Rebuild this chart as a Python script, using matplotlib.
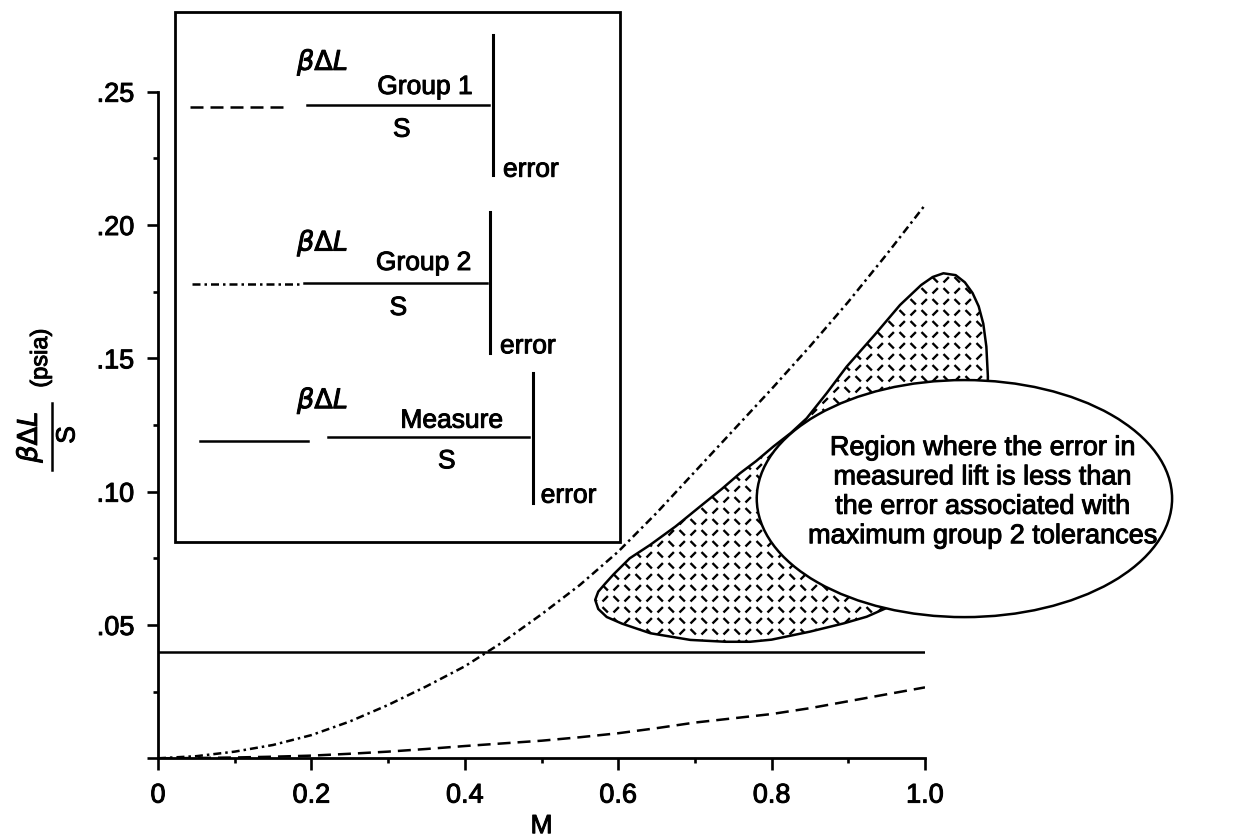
import numpy as np
import matplotlib
matplotlib.use("Agg")
import matplotlib.pyplot as plt
import matplotlib.patheffects as pe
from matplotlib.patches import Polygon, Ellipse, Rectangle
from matplotlib.lines import Line2D
from matplotlib.collections import LineCollection
from matplotlib.ticker import FixedLocator, FixedFormatter

plt.rcParams['font.family'] = ['Liberation Sans', 'DejaVu Sans']
plt.rcParams['mathtext.fontset'] = 'dejavusans'

# ---- data -------------------------------------------------------------
mach = [0.00, 0.05, 0.10, 0.15, 0.20, 0.25, 0.30, 0.35, 0.40, 0.45, 0.50,
        0.55, 0.60, 0.65, 0.70, 0.75, 0.80, 0.85, 0.90, 0.95, 1.00]
group1_error = [0.0, 0.0001, 0.0003, 0.0006, 0.0010, 0.0017, 0.0025, 0.0035,
                0.0046, 0.0056, 0.0066, 0.0079, 0.0094, 0.0113, 0.0134,
                0.0150, 0.0166, 0.0188, 0.0214, 0.0240, 0.0266]
group2_error = [0.0, 0.0008, 0.0025, 0.0050, 0.0087, 0.0138, 0.0200, 0.0270,
                0.0345, 0.0437, 0.0540, 0.0650, 0.0775, 0.0920, 0.1075,
                0.1230, 0.1385, 0.1545, 0.1712, 0.1890, 0.2075]
measure_mach = [0.0, 1.0]
measure_error = [0.040, 0.040]

# outline of the region where measured lift error < group 2 error
region_mach = [0.570, 0.574, 0.583, 0.594, 0.615, 0.6415, 0.675, 0.7066,
               0.735, 0.7588, 0.780, 0.8022, 0.825, 0.8457, 0.872, 0.8979,
               0.935, 0.9674, 0.995, 1.010, 1.024, 1.040, 1.052, 1.062,
               1.070, 1.076, 1.080, 1.082, 1.081, 1.075, 1.062, 1.040,
               1.005, 0.954, 0.924, 0.894, 0.850, 0.800, 0.772, 0.740,
               0.694, 0.642, 0.605, 0.585, 0.574]
region_error = [0.0594, 0.0625, 0.0655, 0.0690, 0.0750, 0.0800, 0.0870,
                0.0944, 0.1010, 0.1069, 0.1115, 0.1169, 0.1220, 0.1275,
                0.1370, 0.1469, 0.1590, 0.1700, 0.1775, 0.1805, 0.1819,
                0.1812, 0.1785, 0.1745, 0.1695, 0.1630, 0.1544, 0.1431,
                0.1300, 0.1150, 0.0950, 0.0780, 0.0650, 0.0569, 0.0531,
                0.0506, 0.0475, 0.0445, 0.0437, 0.0437, 0.0444, 0.0469,
                0.0505, 0.0530, 0.0560]

callout_lines = ["Region where the error in",
                 "measured lift is less than",
                 "the error associated with",
                 "maximum group 2 tolerances"]

xtick_values = [0.0, 0.2, 0.4, 0.6, 0.8, 1.0]
xtick_labels = ["0", "0.2", "0.4", "0.6", "0.8", "1.0"]
ytick_values = [0.0, 0.05, 0.10, 0.15, 0.20, 0.25]
ytick_labels = ["", ".05", ".10", ".15", ".20", ".25"]
legend_names = ["Group 1", "Group 2", "Measure"]

# ---- figure -----------------------------------------------------------
W, H, DPI = 1250, 839, 100
fig = plt.figure(figsize=(W / DPI, H / DPI), dpi=DPI)
fig.patch.set_facecolor('white')


def fx(x):
    return x / W


def fy(y):
    return 1 - y / H


ax = fig.add_axes([fx(158), fy(758.3), (925 - 158) / W, (758.3 - 91.7) / H])
ax.set_xlim(0, 1.0)
ax.set_ylim(0, 0.25)
for side in ('top', 'right'):
    ax.spines[side].set_visible(False)
for side in ('left', 'bottom'):
    ax.spines[side].set_linewidth(2.0)

FS = 19
ax.xaxis.set_major_locator(FixedLocator(xtick_values))
ax.xaxis.set_major_formatter(FixedFormatter(xtick_labels))
ax.xaxis.set_minor_locator(FixedLocator([0.1, 0.3, 0.5, 0.7, 0.9]))
ax.yaxis.set_major_locator(FixedLocator(ytick_values))
ax.yaxis.set_major_formatter(FixedFormatter(ytick_labels))
ax.yaxis.set_minor_locator(FixedLocator([0.025, 0.075, 0.125, 0.175, 0.225]))
ax.tick_params(axis='x', which='major', direction='out', length=8.5, width=1.9,
               labelsize=19.5, pad=9)
ax.tick_params(axis='y', which='major', direction='out', length=8, width=1.9,
               labelsize=19.5, pad=9)
ax.tick_params(which='minor', direction='out', length=3.6, width=1.9)

ax.set_xlabel('M', fontsize=FS, labelpad=4)

LW = 1.8
dash_pattern = (5.2, 2.8)
dashdot_pattern = (3.2, 1.6, 1.0, 1.6)

ax.plot(mach, group1_error, color='black', lw=LW, dashes=dash_pattern,
        zorder=4)
ax.plot(mach, group2_error, color='black', lw=LW, dashes=dashdot_pattern,
        zorder=4)
ax.plot(measure_mach, measure_error, color='black', lw=LW, zorder=4)

# hatched region
region = Polygon(np.column_stack([region_mach, region_error]), closed=True,
                 facecolor='white', edgecolor='black', lw=LW, clip_on=False,
                 joinstyle='round', zorder=3)
ax.add_patch(region)

pix = ax.transData.transform(np.column_stack([region_mach, region_error]))
x0, y0 = pix.min(axis=0) - 12
x1, y1 = pix.max(axis=0) + 12
step, d = 11.0, 2.7
inv = ax.transData.inverted()
segs = []
for i, gx in enumerate(np.arange(x0, x1, step)):
    for j, gy in enumerate(np.arange(y0, y1, step)):
        if (i + j) % 2 == 0:
            seg = [(gx - d, gy + d), (gx + d, gy - d)]
        else:
            seg = [(gx - d, gy - d), (gx + d, gy + d)]
        segs.append(inv.transform(seg))
hatch = LineCollection(segs, colors='black', linewidths=1.7, zorder=3.5)
hatch.set_clip_path(region)
ax.add_collection(hatch)

# call-out ellipse
callout = Ellipse((1.0514, 0.0974), 0.5415, 0.0889, facecolor='white',
                  edgecolor='black', lw=LW, clip_on=False, zorder=5)
ax.add_patch(callout)
for k, line in enumerate(callout_lines):
    fig.text(fx(983), fy(455 + 29.4 * k), line, ha='center', va='baseline',
             fontsize=19.5, zorder=6)

# ---- legend box -------------------------------------------------------
fig.add_artist(Rectangle((fx(175), fy(542)), (620 - 175) / W, (542 - 12) / H,
                         transform=fig.transFigure, facecolor='none',
                         edgecolor='black', lw=2.0))


def hline(xa, xb, y, **kw):
    fig.add_artist(Line2D([fx(xa), fx(xb)], [fy(y), fy(y)],
                          transform=fig.transFigure, color='black', **kw))


def vline(x, ya, yb, **kw):
    fig.add_artist(Line2D([fx(x), fx(x)], [fy(ya), fy(yb)],
                          transform=fig.transFigure, color='black', **kw))


BDL = r'$\beta\mathit{\Delta}L$'
entries = [
    dict(sample=(190, 288, 106.7), style=dict(dashes=dash_pattern),
         bdl=(297, 70), bar=(307, 489, 105), name=(425, 94),
         s=(401.7, 136.7), vbar=(493.3, 35, 175), err=(503, 176.7)),
    dict(sample=(191.7, 300, 284), style=dict(dashes=dashdot_pattern),
         bdl=(297, 250.7), bar=(304, 486.7, 282.7), name=(423.7, 270),
         s=(398.3, 315), vbar=(490, 211.7, 352.7), err=(500, 353.3)),
    dict(sample=(200, 308.3, 440.7), style=dict(),
         bdl=(297, 408.3), bar=(327.7, 529.3, 437.3), name=(451.7, 427.7),
         s=(446.7, 468.3), vbar=(533.3, 373.3, 503.3), err=(540.7, 502.7)),
]
for name, e in zip(legend_names, entries):
    sx0, sx1, sy = e['sample']
    hline(sx0, sx1, sy, lw=LW, **e['style'])
    fig.text(fx(e['bdl'][0]), fy(e['bdl'][1]), BDL, ha='left', va='baseline',
             fontsize=19.5)
    bx0, bx1, by = e['bar']
    hline(bx0, bx1, by, lw=LW)
    fig.text(fx(e['name'][0]), fy(e['name'][1]), name, ha='center',
             va='baseline', fontsize=FS)
    fig.text(fx(e['s'][0]), fy(e['s'][1]), 'S', ha='center', va='baseline',
             fontsize=FS)
    vx, vy0, vy1 = e['vbar']
    vline(vx, vy0, vy1, lw=2.2)
    fig.text(fx(e['err'][0]), fy(e['err'][1]), 'error', ha='left',
             va='baseline', fontsize=FS)

# ---- y-axis label: beta*dL / S (psia) --------------------------------
fig.text(fx(30), fy(437), BDL, rotation=90, ha='center', va='center',
         fontsize=19.5)
vline(51.7, 403.3, 470, lw=LW)
fig.text(fx(67.5), fy(435), 'S', rotation=90, ha='center', va='center',
         fontsize=FS)
fig.text(fx(41), fy(358), '(psia)', rotation=90, ha='center', va='center',
         fontsize=17)

# slightly heavier glyph strokes for all text
heavy = [pe.withStroke(linewidth=0.7, foreground='black')]
for t in (list(fig.texts) + ax.get_xticklabels() + ax.get_yticklabels()
          + [ax.xaxis.label]):
    t.set_path_effects(heavy)

fig.savefig('out.png', dpi=DPI, facecolor='white')
